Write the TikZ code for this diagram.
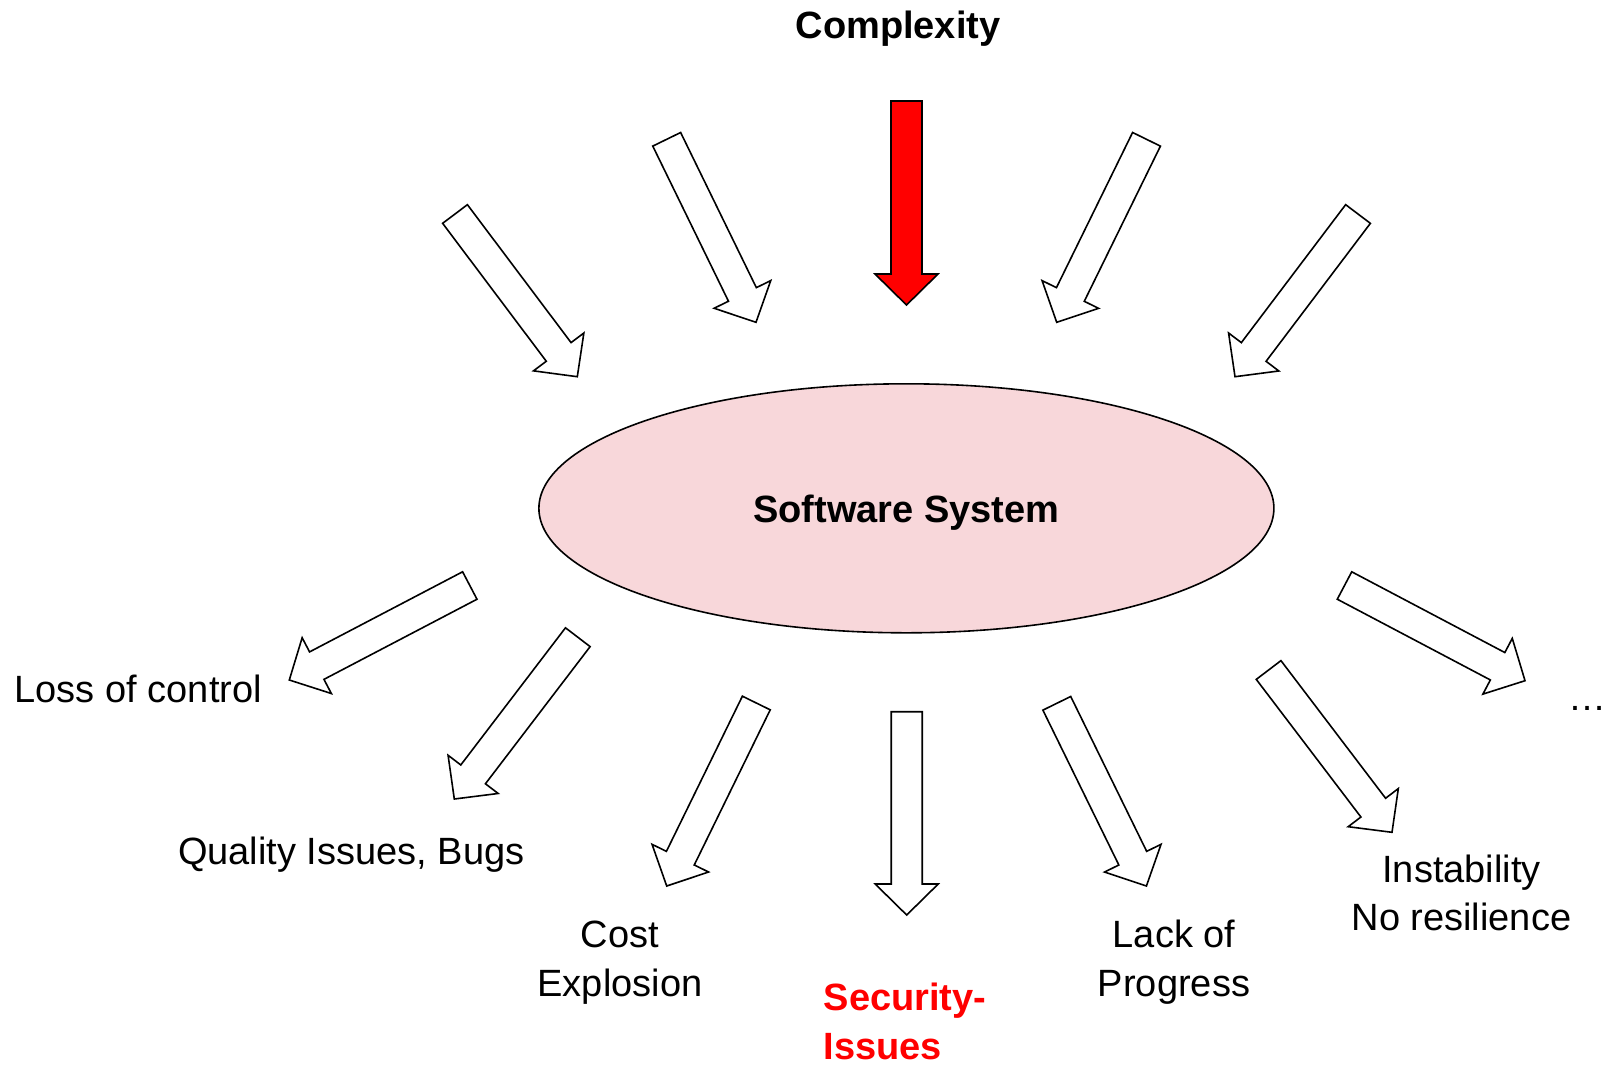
\documentclass[tikz,border=0pt]{standalone}
\usepackage{fontspec}
\setmainfont{Liberation Sans}
\usepackage{xcolor}
\usetikzlibrary{calc,shapes.geometric}

\definecolor{systempink}{RGB}{248,215,218}

\newcommand{\blockarrow}[3][white]{%
    \coordinate (#2_head) at ($(#3)!31pt!(#2)$);
    \draw[hollow_arrow, fill=#1]
        ($(#2)!15.5pt!90:(#3)$) --
        ($(#2_head)!15.5pt!90:(#3)$) --
        ($(#2_head)!31.5pt!90:(#3)$) --
        (#3) --
        ($(#2_head)!31.5pt!-90:(#3)$) --
        ($(#2_head)!15.5pt!-90:(#3)$) --
        ($(#2)!15.5pt!-90:(#3)$) -- cycle;
}

\begin{document}
\begin{tikzpicture}[x=1pt, y=-1pt,
every node/.style={
    inner sep=0pt,
    font=\fontsize{38}{49}\selectfont
},
bold_label/.style={
    font=\fontsize{38}{49}\selectfont\bfseries
},
hollow_arrow/.style={
    draw,
    line width=1.6pt,
    line join=miter
}]

\useasboundingbox (0,0) rectangle (1606,1066);



    \node (software_system) [ellipse, draw, line width=1.6pt, fill=systempink, minimum width=735pt, minimum height=249pt, text depth=0pt, bold_label, shift={(906.4,508.3)}]
    {
        Software System
    };

    \node (complexity) [anchor=base, bold_label, shift={(898,38.5)}]
    {
        Complexity
    };





    \node (loss_of_control) [anchor=base, shift={(138.3,702.5)}]
    {
        Loss of control
    };

    \node (quality_issues) [anchor=base, shift={(351.3,864.5)}]
    {
        Quality Issues, Bugs
    };

    \node (cost_explosion) [anchor=base, align=center, shift={(620,996.6)}]
    {
        Cost\\Explosion
    };

    \node (security_issues) [anchor=base west, align=left, bold_label, red, shift={(823.5,1059)}]
    {
        Security-\\Issues
    };

    \node (lack_of_progress) [anchor=base, align=center, shift={(1174,996.6)}]
    {
        Lack of\\Progress
    };

    \node (instability) [anchor=base, align=center, font=\fontsize{38}{48}\selectfont, shift={(1461.5,930.5)}]
    {
        Instability\\No resilience
    };

    \node (more_effects) [anchor=base west, shift={(1568.5,710)}]
    {
        …
    };





    \coordinate (in_far_left_tail) at (455,214);
    \coordinate (in_far_left_tip) at (577.3,376.7);
    \coordinate (in_left_tail) at (666.7,139.3);
    \coordinate (in_left_tip) at (756,322.3);
    \coordinate (complexity_tail) at (906.5,101);
    \coordinate (complexity_tip) at (906.5,305);
    \coordinate (in_right_tail) at (1146.5,139.3);
    \coordinate (in_right_tip) at (1056.7,322.3);
    \coordinate (in_far_right_tail) at (1358,214);
    \coordinate (in_far_right_tip) at (1235,376.7);

    \coordinate (loss_tail) at (469.8,585.5);
    \coordinate (loss_tip) at (289.3,680);
    \coordinate (quality_tail) at (577.8,637.2);
    \coordinate (quality_tip) at (454.3,799);
    \coordinate (cost_tail) at (756.3,703);
    \coordinate (cost_tip) at (666.7,886);
    \coordinate (security_tail) at (906.7,711.7);
    \coordinate (security_tip) at (906.7,915);
    \coordinate (lack_tail) at (1056.8,703.3);
    \coordinate (lack_tip) at (1146.4,886);
    \coordinate (instability_tail) at (1268.6,670);
    \coordinate (instability_tip) at (1392,832.3);
    \coordinate (more_tail) at (1344.5,585.5);
    \coordinate (more_tip) at (1525,680.7);


    \blockarrow{in_far_left_tail}{in_far_left_tip}
    \blockarrow{in_left_tail}{in_left_tip}
    \blockarrow[red]{complexity_tail}{complexity_tip}
    \blockarrow{in_right_tail}{in_right_tip}
    \blockarrow{in_far_right_tail}{in_far_right_tip}

    \blockarrow{loss_tail}{loss_tip}
    \blockarrow{quality_tail}{quality_tip}
    \blockarrow{cost_tail}{cost_tip}
    \blockarrow{security_tail}{security_tip}
    \blockarrow{lack_tail}{lack_tip}
    \blockarrow{instability_tail}{instability_tip}
    \blockarrow{more_tail}{more_tip}


\end{tikzpicture}
\end{document}
